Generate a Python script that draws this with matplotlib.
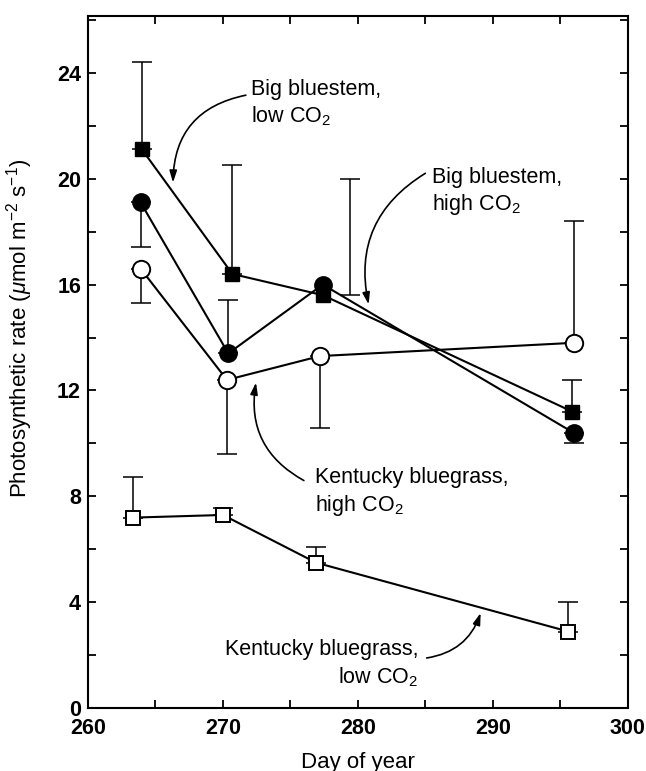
import matplotlib
matplotlib.use("Agg")
import matplotlib.pyplot as plt
from matplotlib.ticker import MultipleLocator

plt.rcParams['font.family'] = ['Liberation Sans', 'DejaVu Sans']
plt.rcParams['mathtext.fontset'] = 'custom'
plt.rcParams['mathtext.rm'] = 'Liberation Sans'
plt.rcParams['mathtext.it'] = 'Liberation Sans:italic'

# ── data ────────────────────────────────────────────────────────────────────
# Big bluestem, low CO2 (filled squares)
bb_low_day   = [264.0, 270.7, 277.4, 295.9]
bb_low_rate  = [21.1, 16.4, 15.6, 11.2]
bb_low_errx  = [264.0, 270.7, 279.4, 295.9]   # bar at day 3 sits off to the right
bb_low_top   = [24.4, 20.5, 20.0, 12.4]

# Big bluestem, high CO2 (filled circles)
bb_high_day  = [263.9, 270.4, 277.4, 296.0]
bb_high_rate = [19.1, 13.4, 16.0, 10.4]
bb_high_end  = [17.4, 15.4, None, 10.0]

# Kentucky bluegrass, high CO2 (open circles)
kb_high_day  = [263.9, 270.3, 277.2, 296.0]
kb_high_rate = [16.6, 12.4, 13.3, 13.8]
kb_high_end  = [15.3, 9.6, 10.6, 18.4]

# Kentucky bluegrass, low CO2 (open squares)
kb_low_day   = [263.3, 270.0, 276.9, 295.6]
kb_low_rate  = [7.2, 7.3, 5.5, 2.9]
kb_low_top   = [8.75, 7.55, 6.1, 4.0]
# ─────────────────────────────────────────────────────────────────────────────

fig = plt.figure(figsize=(6.46, 7.71), dpi=100)
ax = fig.add_axes([0.1362, 0.0813, 0.8355, 0.8983])

LW = 1.5
ELW = 1.1
CAP = 7


def bars(x, y, ends):
    for xi, yi, ei in zip(x, y, ends):
        if ei is None:
            continue
        lo, hi = (yi - ei, 0) if ei < yi else (0, ei - yi)
        ax.errorbar(xi, yi, yerr=[[lo], [hi]], fmt='none', ecolor='black',
                    elinewidth=ELW, capsize=CAP, capthick=ELW, zorder=1)


bars(bb_low_errx, bb_low_rate, bb_low_top)
bars(bb_high_day, bb_high_rate, bb_high_end)
bars(kb_high_day, kb_high_rate, kb_high_end)
bars(kb_low_day, kb_low_rate, kb_low_top)

ax.plot(bb_low_day, bb_low_rate, '-s', color='black', lw=LW, ms=10.5,
        mfc='black', mec='black', zorder=3)
ax.plot(bb_high_day, bb_high_rate, '-o', color='black', lw=LW, ms=12.5,
        mfc='black', mec='black', zorder=3)
ax.plot(kb_high_day, kb_high_rate, '-o', color='black', lw=LW, ms=12.5,
        mfc='white', mec='black', mew=1.4, zorder=3)
ax.plot(kb_low_day, kb_low_rate, '-s', color='black', lw=LW, ms=10.5,
        mfc='white', mec='black', mew=1.4, zorder=3)

# labels with curved arrows
txt = dict(fontsize=15.5, linespacing=1.25, va='top')
arr = dict(arrowstyle='-|>,head_length=0.7,head_width=0.22', color='black',
           lw=1.2, shrinkA=0, shrinkB=0)

ax.text(272.1, 23.75, 'Big bluestem,\nlow CO$_2$', ha='left', **txt)
ax.annotate('', xy=(266.3, 19.85), xytext=(271.7, 23.15),
            arrowprops=dict(connectionstyle='arc3,rad=0.4', **arr))

ax.text(285.5, 20.45, 'Big bluestem,\nhigh CO$_2$', ha='left', **txt)
ax.annotate('', xy=(280.8, 15.25), xytext=(285.0, 20.2),
            arrowprops=dict(connectionstyle='arc3,rad=0.35', **arr))

ax.text(276.8, 9.1, 'Kentucky bluegrass,\nhigh CO$_2$', ha='left', **txt)
ax.annotate('', xy=(272.45, 12.3), xytext=(276.0, 8.6),
            arrowprops=dict(connectionstyle='arc3,rad=-0.35', **arr))

ax.text(284.5, 2.6, 'Kentucky bluegrass,\nlow CO$_2$', ha='right',
        multialignment='right', **txt)
ax.annotate('', xy=(289.1, 3.6), xytext=(285.1, 1.9),
            arrowprops=dict(connectionstyle='arc3,rad=0.3', **arr))

ax.set_xlim(260, 300)
ax.set_ylim(0, 26.15)
ax.xaxis.set_major_locator(MultipleLocator(10))
ax.xaxis.set_minor_locator(MultipleLocator(5))
ax.yaxis.set_major_locator(MultipleLocator(4))
ax.yaxis.set_minor_locator(MultipleLocator(2))
ax.tick_params(which='both', direction='in', length=6, width=1.3,
               top=True, right=True)
ax.tick_params(axis='x', which='major', pad=7)
ax.tick_params(axis='y', which='major', pad=5)
for lab in ax.get_xticklabels() + ax.get_yticklabels():
    lab.set_fontsize(15.5)
    lab.set_fontweight('bold')
for lab in ax.get_yticklabels():
    lab.set_verticalalignment('center_baseline')
for sp in ax.spines.values():
    sp.set_linewidth(1.5)

ax.set_xlabel('Day of year', fontsize=16, labelpad=9)
ax.set_ylabel('Photosynthetic rate ($\\mu$mol m$^{-2}$ s$^{-1}$)', fontsize=16)
ax.yaxis.set_label_coords(-0.098, 0.549)

fig.savefig('out.png', dpi=100)
